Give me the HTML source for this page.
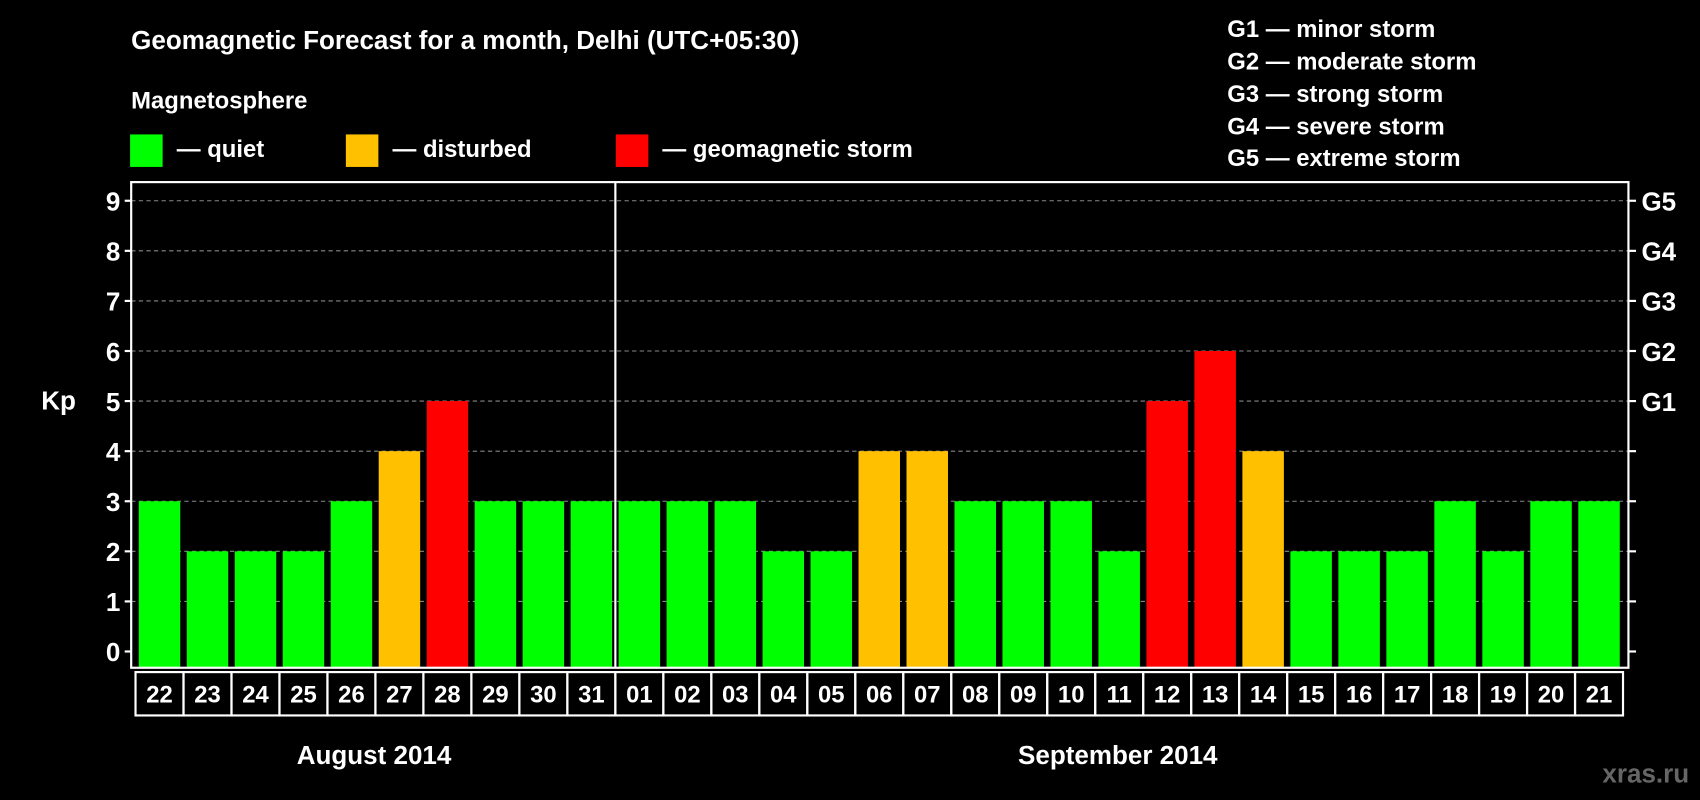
<!DOCTYPE html>
<html><head><meta charset="utf-8">
<style>
html,body{margin:0;padding:0;background:#000;}
svg{display:block;font-family:"Liberation Sans",Arial,sans-serif;font-weight:bold;}
</style></head>
<body>
<svg id="chart" width="1700" height="800" viewBox="0 0 1568 738" preserveAspectRatio="none" xmlns="http://www.w3.org/2000/svg">
<rect width="1568" height="738" fill="#000"/>
<text x="121" y="45" fill="#fff" font-size="24">Geomagnetic Forecast for a month, Delhi (UTC+05:30)</text>
<text x="121" y="100" fill="#fff" font-size="22">Magnetosphere</text>
<g>
<rect x="120" y="124" width="30" height="30" fill="#00ff00"/>
<text x="163" y="145" fill="#fff" font-size="22">— quiet</text></g>
<g>
<rect x="319" y="124" width="30" height="30" fill="#ffc000"/>
<text x="362" y="145" fill="#fff" font-size="22">— disturbed</text></g>
<g>
<rect x="568" y="124" width="30" height="30" fill="#ff0000"/>
<text x="611" y="145" fill="#fff" font-size="22">— geomagnetic storm</text></g>
<g fill="#fff" font-size="22">
<text x="1132" y="34">G1 — minor storm</text>
<text x="1132" y="64">G2 — moderate storm</text>
<text x="1132" y="94">G3 — strong storm</text>
<text x="1132" y="124">G4 — severe storm</text>
<text x="1132" y="153">G5 — extreme storm</text>
</g>
<g id="grid"></g>
<g id="bars"></g>
<g id="axes"></g>
<text x="38" y="378" fill="#fff" font-size="24">Kp</text>
<text x="345" y="705" fill="#fff" font-size="24" text-anchor="middle">August 2014</text>
<text x="1031" y="705" fill="#fff" font-size="24" text-anchor="middle">September 2014</text>
<text x="1558" y="722" fill="#666" font-size="24" text-anchor="end">xras.ru</text>
</svg>
<script>
const days = ["22","23","24","25","26","27","28","29","30","31","01","02","03","04","05","06","07","08","09","10","11","12","13","14","15","16","17","18","19","20","21"];
const kpValues = [3,2,2,2,3,4,5,3,3,3,3,3,3,2,2,4,4,3,3,3,2,5,6,4,2,2,2,3,2,3,3];
const yTicks = [0,1,2,3,4,5,6,7,8,9];
const gLabels = ["G1","G2","G3","G4","G5"];
const gLevels = [5,6,7,8,9];
const monthSplitIndex = 10;

const NS="http://www.w3.org/2000/svg";
const L=121,R=1502,T=168,B=616,x0=125,x1=1497;
const slot=(x1-x0)/days.length;
const y=v=>601-v*46.2;
const xs=i=>x0+i*slot;
function mk(tag,attrs,parent,txt){const e=document.createElementNS(NS,tag);for(const k in attrs)e.setAttribute(k,attrs[k]);if(txt!==undefined)e.textContent=txt;parent.appendChild(e);return e;}
const grid=document.getElementById('grid'),bars=document.getElementById('bars'),axes=document.getElementById('axes');
yTicks.forEach(t=>{
  if(t>0){const g=mk('line',{x1:L,x2:R,y1:y(t),y2:y(t),stroke:'#888','stroke-dasharray':'4,3','stroke-width':1},grid);
  
  }
  mk('line',{x1:L-6,x2:L,y1:y(t),y2:y(t),stroke:'#fff','stroke-width':2},axes);
  mk('line',{x1:R,x2:R+7,y1:y(t),y2:y(t),stroke:'#fff','stroke-width':2},axes);
  const tl=mk('text',{x:L-10,y:y(t)+9,fill:'#fff','font-size':24,'text-anchor':'end'},axes,String(t));
  
  
});
gLabels.forEach((g,i)=>{
  const e=mk('text',{x:R+12,y:y(gLevels[i])+9,fill:'#fff','font-size':24},axes,g);
  
  
});
kpValues.forEach((v,i)=>{
  const c=v>=5?'#ff0000':(v>=4?'#ffc000':'#00ff00');
  const b=mk('rect',{x:xs(i)+3,y:y(v),width:slot-6,height:B-y(v),fill:c},bars);
  
  
  const box=mk('rect',{x:xs(i),y:620,width:slot,height:40,fill:'none',stroke:'#fff','stroke-width':2},axes);
  
  
  const t=mk('text',{x:xs(i)+slot/2,y:648,fill:'#fff','font-size':22,'text-anchor':'middle'},axes,days[i]);
  
  
});
const fr=mk('rect',{x:L,y:T,width:R-L,height:B-T,fill:'none',stroke:'#fff','stroke-width':2},axes);


const sp=mk('line',{x1:xs(monthSplitIndex),x2:xs(monthSplitIndex),y1:T,y2:B,stroke:'#fff','stroke-width':2},axes);


</script>
</body></html>
